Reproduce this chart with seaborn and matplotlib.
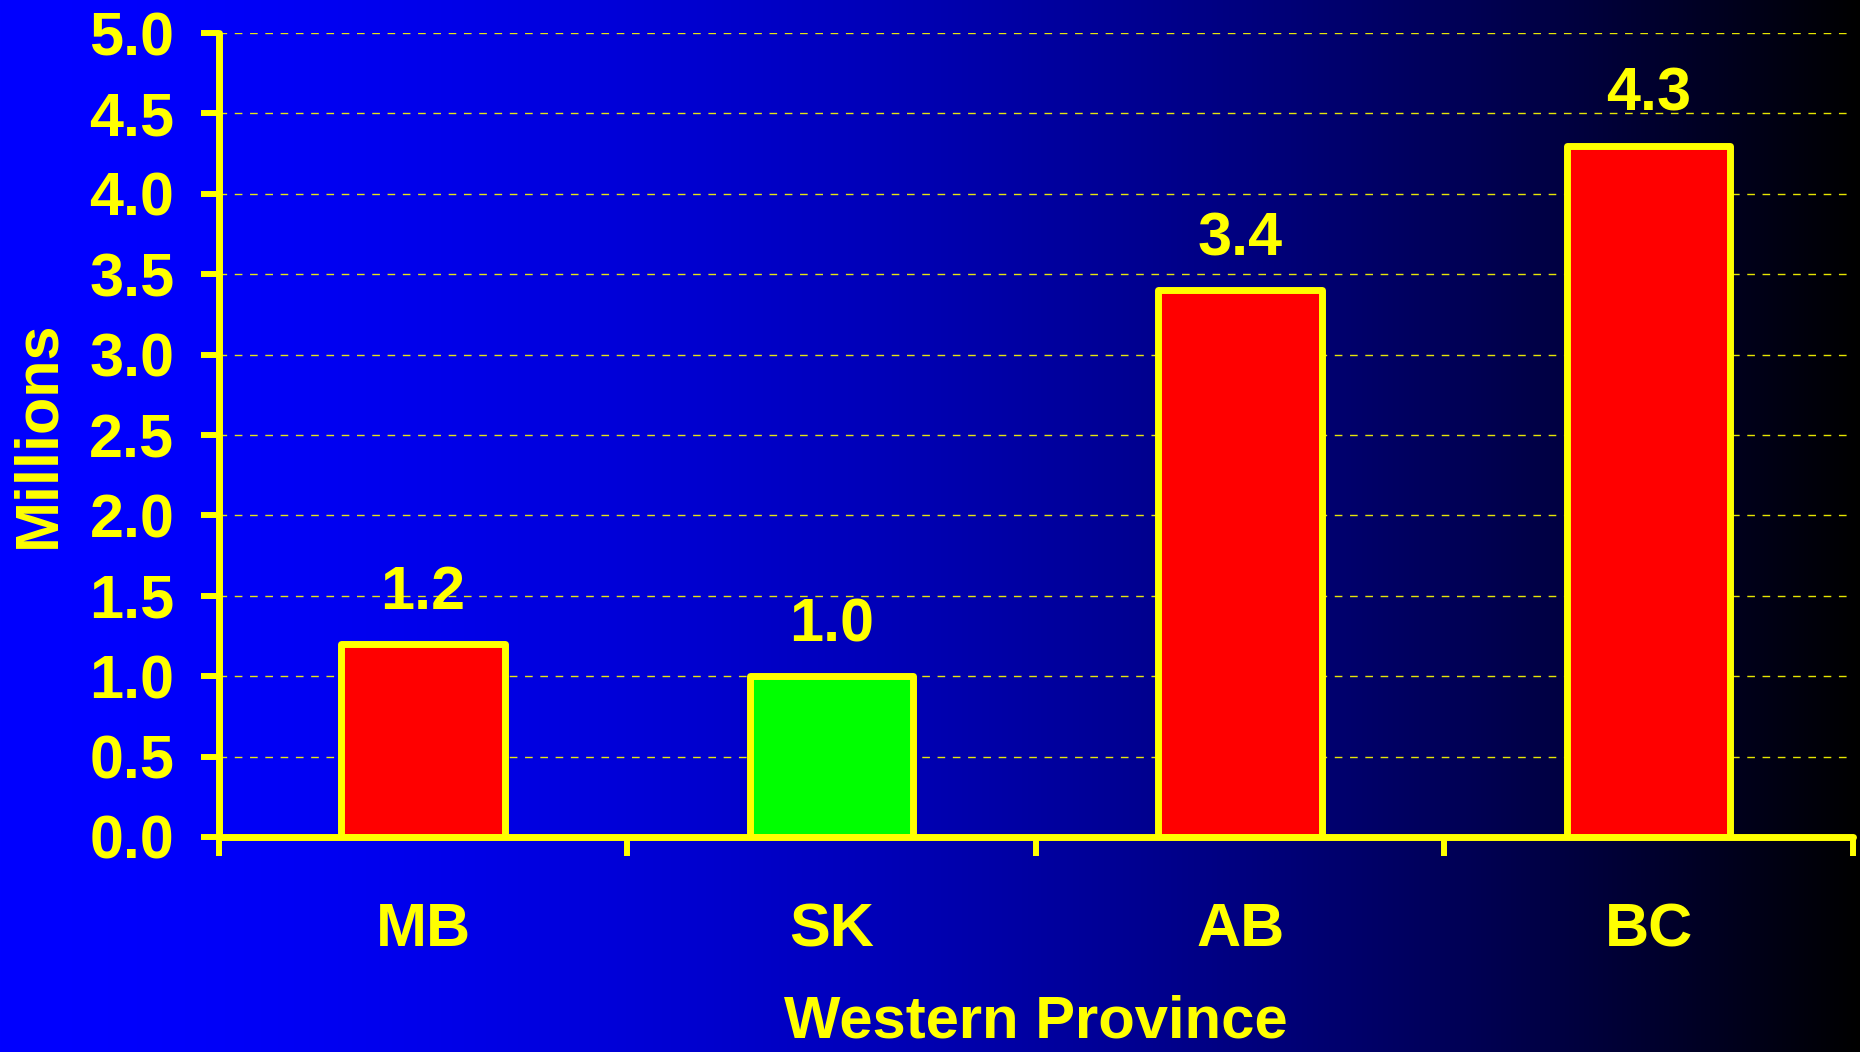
import numpy as np
import pandas as pd
import matplotlib
matplotlib.use("Agg")
import matplotlib.pyplot as plt
import seaborn as sns

# Population of the western provinces, in millions
provinces = ["MB", "SK", "AB", "BC"]
population = [1.2, 1.0, 3.4, 4.3]
bar_colors = ["#FF0000", "#00FF00", "#FF0000", "#FF0000"]
y_ticks = [0.0, 0.5, 1.0, 1.5, 2.0, 2.5, 3.0, 3.5, 4.0, 4.5, 5.0]

YELLOW = "#FFFF00"

sns.set_style("white")
plt.rcParams["font.family"] = ["Liberation Sans", "DejaVu Sans"]
plt.rcParams["font.weight"] = "bold"

fig = plt.figure(figsize=(18.6, 10.52), dpi=100)

# Horizontal blue-to-black background
bg = fig.add_axes([0, 0, 1, 1], zorder=0)
f = np.linspace(0, 1, 1000)
blue = 1.0 - f ** 1.7
grad = np.zeros((2, f.size, 3))
grad[:, :, 2] = blue
bg.imshow(grad, aspect="auto", extent=[0, 1, 0, 1], interpolation="bilinear")
bg.set_axis_off()

ax = fig.add_axes([0.1177, 0.2044, 0.8785, 0.7642], zorder=1)
ax.set_facecolor("none")

df = pd.DataFrame({"province": provinces, "population": population})
sns.barplot(data=df, x="province", y="population", hue="province",
            palette=bar_colors, saturation=1, width=0.4, edgecolor=YELLOW,
            linewidth=5, legend=False, ax=ax, zorder=3)
for p in ax.patches:
    p.set_joinstyle("round")

ax.set_xlim(-0.5, 3.5)
ax.set_ylim(0, 5)

# Value labels above each bar
for i, v in enumerate(population):
    ax.annotate(f"{v:.1f}", xy=(i, v), xytext=(0, 25), textcoords="offset points",
                ha="center", va="baseline", color=YELLOW, fontsize=44,
                fontweight="bold", zorder=5)

# Y axis
ax.set_yticks(y_ticks)
ax.set_yticklabels([f"{t:.1f}" for t in y_ticks])
ax.tick_params(axis="y", length=13, width=4.3, color=YELLOW, pad=19,
               labelsize=44, labelcolor=YELLOW, direction="out", left=True)

# X axis: ticks on category boundaries, labels at category centers
ax.set_xticks([-0.5, 0.5, 1.5, 2.5, 3.5])
ax.set_xticklabels([""] * 5)
ax.set_xticks(range(len(provinces)), labels=provinces, minor=True)
ax.tick_params(axis="x", which="major", length=14, width=4.3, color=YELLOW,
               direction="out", bottom=True)
ax.tick_params(axis="x", which="minor", length=0, pad=47, labelsize=44,
               labelcolor=YELLOW, bottom=True)
for lbl in ax.get_xticklabels(minor=True) + ax.get_yticklabels():
    lbl.set_fontweight("bold")

# Dashed horizontal grid
ax.grid(False)
ax.yaxis.grid(True, color=YELLOW, linestyle=(0, (5.5, 5.5)), linewidth=1.0,
              alpha=0.9, zorder=1)
ax.set_axisbelow(True)

for side in ["top", "right"]:
    ax.spines[side].set_visible(False)
for side in ["left", "bottom"]:
    ax.spines[side].set_color(YELLOW)
    ax.spines[side].set_linewidth(5)
    ax.spines[side].set_capstyle("round")
    ax.spines[side].set_zorder(4)

ax.set_ylabel("Millions", color=YELLOW, fontsize=44, fontweight="bold")
ax.yaxis.set_label_coords(-0.110, 0.501)
ax.yaxis.label.set_va("center")

ax.set_xlabel("Western Province", color=YELLOW, fontsize=43, fontweight="bold")
ax.xaxis.set_label_coords(0.5, -0.25)
ax.xaxis.label.set_va("baseline")

fig.savefig("out.png", dpi=100)
